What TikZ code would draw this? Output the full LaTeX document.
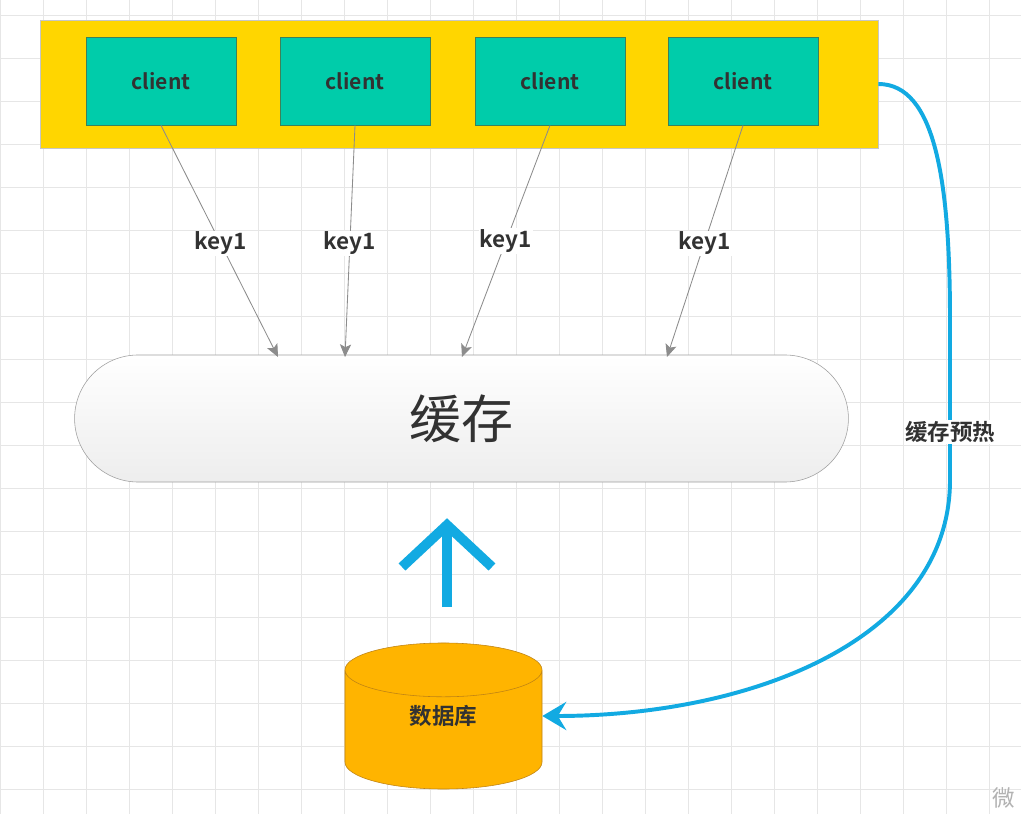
\documentclass[tikz,border=0pt]{standalone}
\usepackage{fontspec}
\setmainfont{Noto Sans CJK SC}
\newfontfamily\heavy{Noto Sans CJK SC Bold}
\usepackage{tikz}
\usetikzlibrary{arrows.meta,shapes.geometric,shapes.misc}

\definecolor{gridgray}{RGB}{230,230,230}
\definecolor{boxyellow}{RGB}{255,214,0}
\definecolor{clientgreen}{RGB}{0,204,170}
\definecolor{clientedge}{RGB}{60,130,90}
\definecolor{dborange}{RGB}{255,180,0}
\definecolor{dbedge}{RGB}{190,130,20}
\definecolor{warmblue}{RGB}{18,170,226}
\definecolor{txtgray}{RGB}{50,50,50}

\tikzset{
  gridline/.style={draw=gridgray, line width=0.7pt},
  clientbox/.style={draw=clientedge, fill=clientgreen, line width=0.6pt, minimum width=3.75cm, minimum height=2.2cm, font=\heavy\fontsize{15}{18}\selectfont, text=txtgray},
  keyarrow/.style={draw=gray!90, line width=0.6pt, -{Stealth[length=9pt,width=8pt,inset=2pt]}},
  keylabel/.style={fill=white, inner sep=1pt, text=txtgray, font=\heavy\fontsize{16}{18}\selectfont},
  warmarrow/.style={draw=warmblue, line width=2.8pt, -{Stealth[length=17pt,width=20pt,inset=6pt]}},
}

\begin{document}
\begin{tikzpicture}[x=0.025cm,y=-0.025cm]

\useasboundingbox (0,0) rectangle (1021,814);
\fill[white] (0,0) rectangle (1021,814);

% grid
\foreach \i in {0,...,23} \draw[gridline] (\i*43,0) -- (\i*43,814);
\foreach \j in {0,...,18} \draw[gridline] (0,15+\j*43) -- (1021,15+\j*43);

\node[draw=gray!45, fill=boxyellow, minimum width=20.95cm, minimum height=3.2cm] (clients) at (459,84) {};

\node[clientbox] (c1) at (161,81) {client};
\node[clientbox] (c2) at (355,81) {client};
\node[clientbox] (c3) at (550,81) {client};
\node[clientbox] (c4) at (743,81) {client};

\node[rounded rectangle, draw=gray!75, top color=white, bottom color=gray!14, minimum width=19.575cm, minimum height=3.175cm, text=txtgray, font=\fontsize{37}{40}\selectfont] (cache) at (461.5,418.5) {缓存};

\node[cylinder, shape border rotate=90, aspect=0.7, anchor=shape center, draw=dbedge, fill=dborange, minimum width=4.925cm, minimum height=3.65cm, font=\heavy\fontsize{16}{18}\selectfont] (db) at (443.5,716) {\raisebox{8.5pt}{\phantom{数据库}}};
\node[text=txtgray, font=\heavy\fontsize{16}{18}\selectfont] (dbtext) at (db.shape center) {数据库};

\coordinate (t1) at (278,357);
\coordinate (t2) at (345,357);
\coordinate (t3) at (462,357);
\coordinate (t4) at (667,357);

\draw[keyarrow] (c1.south) -- node[keylabel, pos=0.51] {key1} (t1);
\draw[keyarrow] (c2.south) -- node[keylabel, pos=0.51] {key1} (t2);
\draw[keyarrow] (c3.south) -- node[keylabel, pos=0.50] {key1} (t3);
\draw[keyarrow] (c4.south) -- node[keylabel, pos=0.51] {key1} (t4);

% warm up
\draw[warmarrow] (clients.east) .. controls (935,84) and (950,180) .. (950,320) -- node[pos=0.7, fill=white, inner sep=1pt, text=txtgray, font=\heavy\fontsize{16}{18}\selectfont] {缓存预热} (950,480) .. controls (950,640) and (750,716) .. (db.east |- db.shape center);

% load arrow
\coordinate (upT) at (447,525);
\coordinate (upB) at (447,607);
\draw[warmblue, line width=7pt] (upB) -- (upT);
\draw[warmblue, line width=7pt, miter limit=10] (upT) ++(-45,42) -- (upT) -- ++(45,42);

\node[text=gray!60, font=\fontsize{16}{18}\selectfont] (wm) at (1004,798) {微};

\end{tikzpicture}
\end{document}
